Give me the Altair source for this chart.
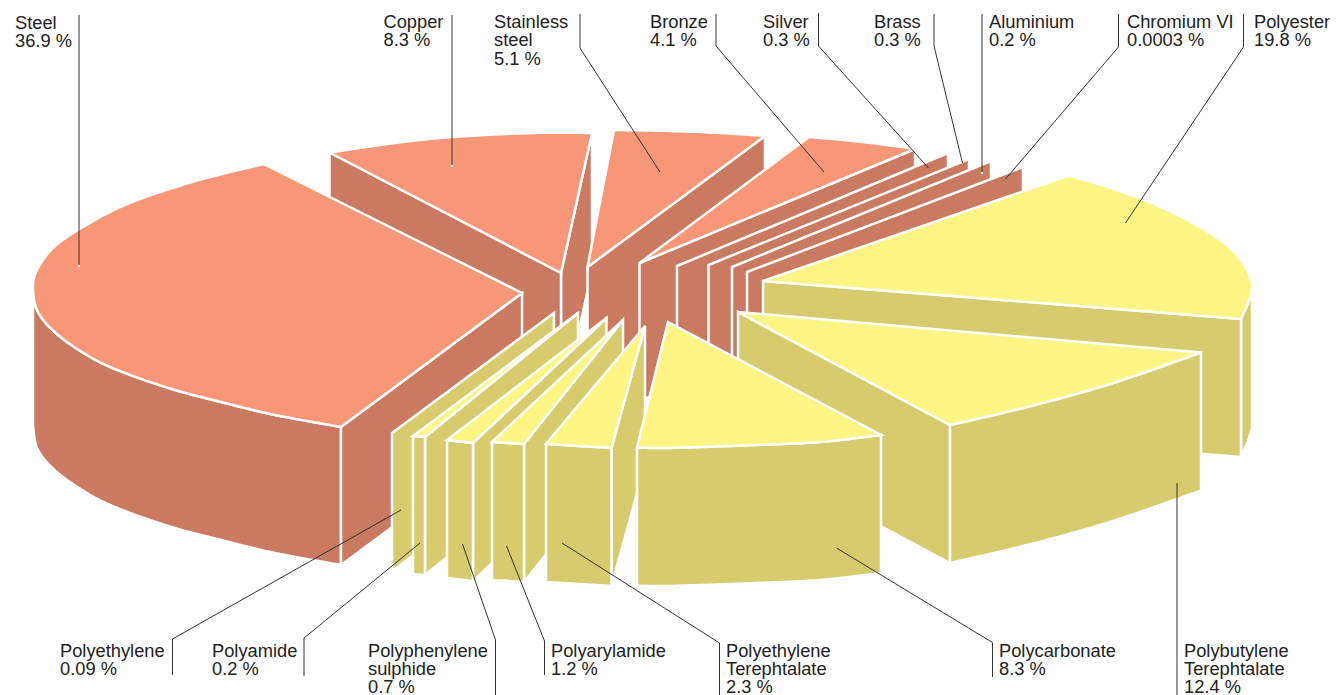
import altair as alt

# ---- chart content ----
names = ["Steel", "Copper", "Stainless\nsteel", "Bronze", "Silver", "Brass", "Aluminium", "Chromium VI",
         "Polyester", "Polyethylene", "Polyamide", "Polyphenylene\nsulphide", "Polyarylamide",
         "Polyethylene\nTerephtalate", "Polycarbonate", "Polybutylene\nTerephtalate"]
shares = ["36.9 %", "8.3 %", "5.1 %", "4.1 %", "0.3 %", "0.3 %", "0.2 %", "0.0003 %",
          "19.8 %", "0.09 %", "0.2 %", "0.7 %", "1.2 %", "2.3 %", "8.3 %", "12.4 %"]
label_x = [15, 383.5, 494, 650, 763, 874, 989, 1127, 1254, 60, 212, 368, 551, 726, 999, 1184]
label_y = [28.5, 28, 28, 28, 28, 28, 28, 28, 28, 656.5, 656.5, 656.5, 656.5, 656.5, 656.5, 656.5]

leaders = [
    [(79, 15), (79, 265)],
    [(452, 15), (452, 165)],
    [(580, 14), (580, 48), (660, 172)],
    [(716, 14), (716, 46), (824, 172)],
    [(818.5, 13), (818.5, 46), (928.5, 168)],
    [(934, 14), (934, 46), (962.5, 163)],
    [(982, 14), (982, 172)],
    [(1118.5, 14), (1118.5, 47), (1005.5, 179)],
    [(1243.5, 14), (1243.5, 47), (1125.5, 223)],
    [(401, 510), (172.5, 639), (172.5, 675)],
    [(420, 543), (304, 638), (304, 676)],
    [(462.5, 544), (495.5, 640), (495.5, 695)],
    [(506.5, 546), (544.5, 641), (544.5, 675)],
    [(562, 543), (719.5, 643), (719.5, 695)],
    [(836.5, 548), (992.5, 642.5), (992.5, 677)],
    [(1177, 483), (1177, 695)],
]

depth = 138

# apex and outer rim of each slice
steel_apex = (522, 293)
steel_rim = [(263.5, 164), (192, 182), (125, 205), (78, 230), (52, 249), (37, 270), (33, 288),
             (38, 312), (58, 335), (92, 358), (125, 373), (175, 390), (225, 403), (275, 415), (341, 427)]
copper_apex = (561, 273)
copper_rim = [(329.5, 152.5), (395, 143), (453, 137), (534, 133), (592, 133)]
stainless_apex = (587.5, 267)
stainless_rim = [(614, 130), (670, 131), (720, 133), (765, 136)]
bronze_apex = (639.5, 263)
bronze_rim = [(809, 137), (863, 142), (915, 149)]
silver_edge = [(677, 266), (948, 153)]
brass_edge = [(708.5, 265), (969, 159)]
aluminium_edge = [(732, 267), (991, 161)]
chromium_edge = [(747, 272), (1023, 167)]
polyester_apex = (763, 281)
polyester_rim = [(1069, 175.5), (1117, 190), (1163, 208), (1210, 233), (1237, 255), (1250, 277),
                 (1252, 290), (1248, 303), (1241, 319)]
polybutylene_apex = (738, 312)
polybutylene_rim = [(1201, 352.5), (1140, 374), (1090, 390), (1023, 408), (950, 425)]
polycarbonate_apex = (668, 322)
polycarbonate_rim = [(881, 435), (820, 442), (756, 445), (670, 448), (637, 447.5)]
polyethylene_edge = [(554, 313), (392, 433)]
polyamide_apex = (578, 313)
polyamide_rim = [(413, 436), (425, 437)]
pps_apex = (606.5, 318)
pps_rim = [(447, 440), (473, 443)]
polyarylamide_apex = (623, 320)
polyarylamide_rim = [(492, 442), (524, 444)]
pet_apex = (645, 326)
pet_rim = [(546, 444), (611.5, 448)]

kinds = ["metal top", "metal side", "polymer top", "polymer side"]
kind_colors = ["#F79778", "#C97A61", "#FFF585", "#D8CB6E"]


def smooth(pts, n=10):
    if len(pts) < 3:
        return list(pts)
    out = []
    p = [pts[0]] + list(pts) + [pts[-1]]
    for i in range(1, len(p) - 2):
        for k in range(n):
            t = k / n
            out.append(tuple(
                0.5 * (2 * p[i][d] + (p[i + 1][d] - p[i - 1][d]) * t
                       + (2 * p[i - 1][d] - 5 * p[i][d] + 4 * p[i + 1][d] - p[i + 2][d]) * t ** 2
                       + (3 * p[i][d] - p[i - 1][d] - 3 * p[i + 1][d] + p[i + 2][d]) * t ** 3)
                for d in (0, 1)))
    out.append(tuple(pts[-1]))
    return out


features = []


def poly(points, kind):
    ring = [list(p) for p in points]
    ring.append(ring[0])
    features.append({"type": "Feature", "properties": {"kind": kind},
                     "geometry": {"type": "Polygon", "coordinates": [ring]}})


def drop(points):
    return [(x, y + depth) for x, y in points]


def top(apex, rim, group):
    poly([apex] + smooth(rim), group + " top")


def face(a, b, group):
    poly([a, b, (b[0], b[1] + depth), (a[0], a[1] + depth)], group + " side")


def wall(rim, group):
    arc = smooth(rim)
    poly(arc + drop(arc)[::-1], group + " side")


# painted from the back to the front
face(copper_apex, copper_rim[-1], "metal")
face(copper_rim[0], copper_apex, "metal")
top(copper_apex, copper_rim, "metal")
face(stainless_apex, stainless_rim[-1], "metal")
top(stainless_apex, stainless_rim, "metal")
face(bronze_apex, bronze_rim[-1], "metal")
top(bronze_apex, bronze_rim, "metal")
for edge in (silver_edge, brass_edge, aluminium_edge, chromium_edge):
    face(edge[0], edge[1], "metal")

wall(steel_rim[6:], "metal")
face(steel_rim[-1], steel_apex, "metal")
top(steel_apex, steel_rim, "metal")

face(polyethylene_edge[1], polyethylene_edge[0], "polymer")
for apex, rim in ((polyamide_apex, polyamide_rim), (pps_apex, pps_rim),
                  (polyarylamide_apex, polyarylamide_rim), (pet_apex, pet_rim)):
    face(rim[1], apex, "polymer")
    wall(rim, "polymer")
    top(apex, rim, "polymer")

wall(polyester_rim[6:], "polymer")
face(polyester_apex, polyester_rim[-1], "polymer")
top(polyester_apex, polyester_rim, "polymer")

face(polybutylene_apex, polybutylene_rim[-1], "polymer")
wall(polybutylene_rim, "polymer")
top(polybutylene_apex, polybutylene_rim, "polymer")

wall(polycarbonate_rim, "polymer")
top(polycarbonate_apex, polycarbonate_rim, "polymer")

W, H = 1326, 687
xs = alt.Scale(domain=[8, 8 + W], range=[0, W])
ys = alt.Scale(domain=[8, 8 + H], range=[0, H])

slices = alt.Chart(alt.InlineData(
    values={"type": "FeatureCollection", "features": features},
    format=alt.DataFormat(property="features", type="json"))).mark_geoshape(
    stroke="white", strokeWidth=2.5, strokeJoin="miter").encode(
    color=alt.Color("properties.kind:N", scale=alt.Scale(domain=kinds, range=kind_colors), legend=None)
).project(type="identity", scale=1, translate=[-8, -8])

leader_rows = []
for i, line in enumerate(leaders):
    for j, (x, y) in enumerate(line):
        leader_rows.append({"id": i, "seq": j, "x": x, "y": y})
leader_chart = alt.Chart(alt.Data(values=leader_rows)).mark_line(
    color="#333333", strokeWidth=1, clip=False).encode(
    x=alt.X("x:Q", scale=xs, axis=None),
    y=alt.Y("y:Q", scale=ys, axis=None),
    detail="id:N",
    order="seq:Q",
)

tip_rows = [{"x": leaders[i][-1][0], "y": leaders[i][-1][1] + 1} for i in (0, 1, 6)]
tips = alt.Chart(alt.Data(values=tip_rows)).mark_square(color="white", size=5, opacity=1).encode(
    x=alt.X("x:Q", scale=xs, axis=None), y=alt.Y("y:Q", scale=ys, axis=None))

text_rows = []
for n, s, x, y in zip(names, shares, label_x, label_y):
    for k, line in enumerate(n.split("\n") + [s]):
        text_rows.append({"x": x, "y": y + k * 18.4, "t": line})
labels = alt.Chart(alt.Data(values=text_rows)).mark_text(
    align="left", baseline="alphabetic", font="Liberation Sans", fontSize=18.3, color="#222222").encode(
    x=alt.X("x:Q", scale=xs, axis=None),
    y=alt.Y("y:Q", scale=ys, axis=None),
    text="t:N",
)

chart = alt.layer(slices, leader_chart, tips, labels).resolve_scale(x="shared", y="shared").properties(
    width=W, height=H, padding=0, autosize=alt.AutoSizeParams(type="none"),
).configure_view(stroke=None)

chart.save("out.html", embed_options={"renderer": "svg", "actions": False})
